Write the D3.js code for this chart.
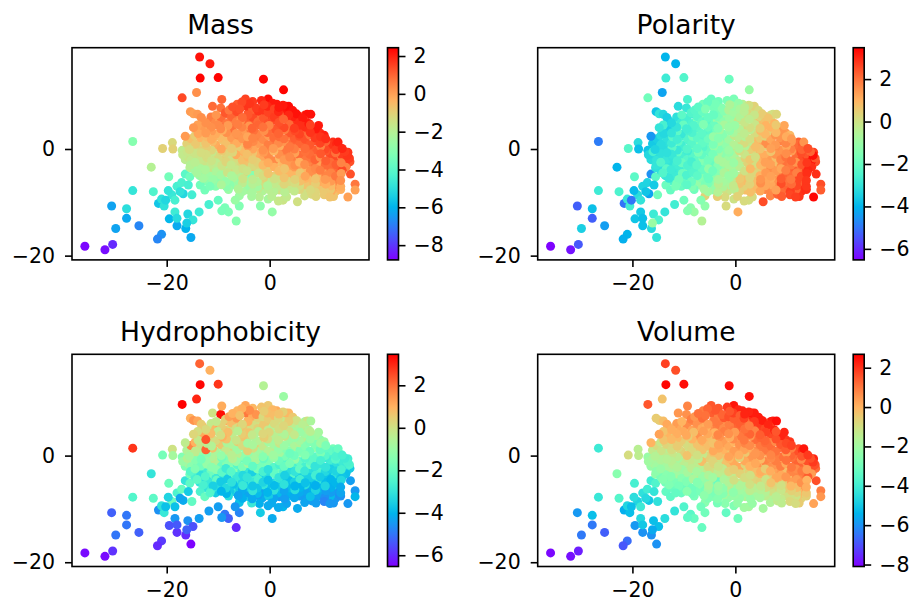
<!DOCTYPE html>
<html>
<head>
<meta charset="utf-8">
<script src="https://cdn.jsdelivr.net/npm/d3@7"></script>
<style>
  html, body { margin: 0; padding: 0; background: #fff; }
  text { font-family: "DejaVu Sans", sans-serif; fill: #000; }
</style>
</head>
<body>
<svg id="chart" width="913" height="602"></svg>
<script>
// one line per group of points, same order in every array
var embedX = [
  -35.9,-32,-30.5,-30.7,-27.8,-27.8,-29.9,-25.4,-26.6,-26.6,
  -23,-22.6,-20.8,-18.9,-18.8,-17,-19.6,-21.8,-21,-15.3,
  -16.3,-16.1,-18,-19.5,-18,-18.4,-15.9,-14.9,-13.7,-11.8,
  -10,-9.3,-8.7,-8,-6.5,-6.7,-5.9,-5.9,-3.5,-1.8,
  -0.3,0.5,1.7,2.6,5.4,8.2,10.6,12.4,15.2,16.6,
  16.6,15.7,15.2,13.3,10.6,9.5,8,6.9,3.7,2.7,
  -1.2,-0.3,-4.7,-9.3,-11.1,-9.5,-14.2,-17,-13.6,-11.6,
  -13.5,-10,-15.4,-14.8,-16.4,
  -16.4,-15.5,-17.1,-15.8,-18,-19.7,-17.4,-15.1,-19,-21,
  -20.2,-21.6,-20.5,-18.4,-16.8,-13.5,-12.6,-11.6,-9.3,-7.7,
  -5.4,-3.3,-1.6,0.6,
  -7.2,-4.4,-2.6,-0.4,1.8,3.2,
  -8.6,-6.4,-4.2,-2.2,-0.3,1.7,3.9,5.2,
  -13.3,-11.4,-9.4,-7.4,-5.3,-3.3,-1.2,0.9,2.8,4.8,6.4,
  -12.4,-10.5,-8.4,-6.5,-4.4,-2.3,-0.3,1.8,3.8,5.8,7.6,
  -14.8,-13.3,-11.4,-9.5,-7.4,-5.4,-3.4,-1.3,0.8,2.8,4.8,6.9,8.9,
  -13.9,-12.4,-10.5,-8.4,-6.5,-4.4,-2.4,-0.4,1.7,3.8,5.8,7.9,9.8,
  -15.3,-13.4,-11.3,-9.4,-7.4,-5.3,-3.3,-1.3,0.8,2.8,4.8,6.9,8.8,10.9,
  -16.1,-14.4,-12.4,-10.5,-8.5,-6.4,-4.3,-2.4,-0.3,1.7,3.8,5.9,7.8,9.8,11.9,13,
  -15.6,-13.4,-11.3,-9.4,-7.4,-5.4,-3.3,-1.3,0.7,2.9,4.8,6.9,8.9,10.8,12.9,14.1,
  -16.9,-14.4,-12.4,-10.5,-8.4,-6.5,-4.4,-2.3,-0.4,1.8,3.8,5.8,7.8,9.9,11.8,13.9,15.1,
  -16.4,-15.3,-13.3,-11.3,-9.4,-7.4,-5.3,-3.3,-1.4,0.8,2.8,4.8,6.9,8.8,10.9,12.9,14.9,
  -15.4,-13.4,-11.4,-9.3,-7.5,-5.4,-3.4,-1.3,0.7,2.7,4.9,6.8,8.9,10.8,12.9,14.9,14.4,
  -14.5,-12.5,-10.4,-8.5,-6.4,-4.4,-2.3,-0.4,1.8,3.8,5.8,7.9,9.8,11.9,13.8,14.1,
  -13.6,-11.6,-9.5,-7.4,-5.4,-3.4,-1.3,0.8,2.9,4.8,6.9,8.9,10.9,12.8,13.4,
  -12.5,-10.4,-8.5,-6.4,-4.3,-2.4,-0.3,1.8,3.8,5.9,7.8,9.8,11.9,13.8,13.2,
  -10.5,-8.4,-6.5,-4.3,-2.4,-0.4,1.7,3.8,5.8,7.9,9.8,11.9,13.8,13.1,
  -5.3,-3.4,-1.4,0.8,2.9,4.8,6.9,8.9,10.7,12.8,12,
  -2,0.4,3.3,6.8,9,11.7,
  // second pass over the dense part
  -6.3,-3.9,-1.1,1.4,2.6,
  -7.9,-5.8,-3.3,-1.3,0.9,2.6,4.5,
  -14,-10.4,-8.2,-6.1,-4.2,-2.2,0,1.9,3.7,5.6,7.3,
  -13.1,-11.6,-9.7,-7.4,-5.6,-3.5,-1.2,0.6,2.7,4.8,6.9,
  -14,-12,-10.1,-8.1,-6.2,-4,-2.2,-0.1,1.8,3.8,5.9,7.9,
  -13.1,-11.3,-9.2,-7.2,-5.3,-3.1,-1.1,1,2.9,4.9,6.9,8.9,
  -14.5,-12.2,-10.3,-8.3,-6.2,-4.3,-2.3,-0.2,1.9,3.9,5.8,7.8,9.9,
  -15.4,-13.2,-11.1,-9.1,-7.3,-5.2,-3.2,-1.1,0.8,2.8,4.9,6.9,8.8,10.9,12.3,
  -14.6,-12.3,-10.4,-8.4,-6.3,-4.2,-2.1,-0.2,1.9,3.9,5.9,7.8,9.9,11.9,13.6,
  -16,-13.3,-11.2,-9.3,-7.2,-5.3,-3.3,-1.2,0.8,2.8,4.9,6.9,8.8,10.9,12.8,14.6,
  -15.8,-13.9,-12.2,-10.3,-8.3,-6.3,-4.2,-2.3,-0.2,1.9,3.9,5.9,7.9,9.8,11.9,13.9,15.5,
  -14.5,-12.4,-10.4,-8.5,-6.4,-4.4,-2.4,-0.3,1.8,3.8,5.8,7.8,9.9,11.8,13.9,15.6,
  -15.5,-13.4,-11.3,-9.2,-7.2,-5.2,-3.1,-1.2,0.9,2.9,4.8,6.9,8.9,10.9,12.8,14.8,
  -14.1,-12.2,-10.3,-8.2,-6.3,-4.2,-2.2,-0.3,1.8,3.8,5.9,7.9,9.8,11.9,13.9,13.1,
  -12.9,-11,-9.2,-7.1,-5.2,-3.3,-1.2,0.9,2.8,4.9,6.9,8.9,10.8,12.9,12.3,
  -11.4,-9.4,-7.5,-5.3,-3.3,-1.4,0.8,2.8,4.9,6.9,8.9,10.9,12.8,12.1,
  -8,-6.1,-4.2,-2.3,-0.2,1.9,3.8,5.8,7.9,9.8,11.8,13.8
];
var embedY = [
  -18.25,-18.9,-17.9,-10.7,-11.2,-13,-14.9,-14.4,1.4,-7.8,
  -3.4,-8,0.1,1.2,0,-0.25,-5.2,-16.9,-16,-16.6,
  -14.9,-13.9,-14.4,-13.1,-13,-11.8,-12.2,-13.3,-11.8,-10.4,
  -9.6,-11.6,-11,-11.8,-13.5,-9.6,-10.7,-8.8,-8.9,-10.7,
  -9.4,-11.8,-9.75,-9.6,-9.9,-8.5,-8.6,-8.9,-9,-7.7,
  -6.6,-4.7,-0.6,1.3,2.6,4.4,6.5,6.4,8,11.1,
  13.1,9.4,9.4,9.3,8,7.7,10.6,9.6,17.25,16,
  13.3,13.4,7,6.6,2.4,
  -4.7,-5.2,-6.3,-6.75,-7,-7.8,-8,-8.6,-8.6,-9.4,
  -9.6,-10.2,-10.7,-9.6,-8.4,-6.75,-7.7,-7,-6.6,-6.75,
  8.8,8.9,9.1,8.6,
  7.9,8,7.7,8,7.8,8,
  6.8,7,6.7,7.1,6.9,7,6.8,6.6,
  5.9,6,5.8,6.1,5.9,6,5.8,6,5.9,6.1,5.8,
  4.9,5,4.8,5.1,4.9,5.1,4.8,5,4.9,5.1,4.8,
  4,3.9,4.1,3.8,4,4.1,3.9,4.1,3.8,4,3.9,4.1,3.7,
  2.9,3,2.8,3.1,2.9,3,2.8,3.1,2.9,3,2.8,3.1,3,
  1.9,2.1,1.8,2,2.1,1.9,2,1.8,2.1,1.9,2,1.8,2.1,1.9,
  1,0.9,1.1,0.8,1,1.1,0.9,1,0.8,1.1,0.9,1,0.8,1.1,0.9,1,
  -0.1,0.1,-0.2,0,0.1,-0.1,0,-0.2,0.1,-0.1,0,0.1,-0.2,0,-0.1,0.1,
  -1.1,-0.9,-1,-1.2,-0.9,-1.1,-1,-0.8,-1.1,-1,-0.9,-1.1,-1,-0.9,-1.1,-1,-1.2,
  -2,-2.1,-1.9,-2.2,-2,-1.9,-2.1,-2,-1.9,-2.2,-2,-1.9,-2.1,-2,-2.2,-1.9,-2.1,
  -3,-3.1,-2.9,-3.1,-3,-2.9,-3.1,-3,-2.9,-3.1,-3,-2.9,-3.2,-3,-2.9,-3.1,-3,
  -4,-3.9,-4.1,-4,-3.9,-4.1,-4,-3.9,-4.1,-4,-3.9,-4.1,-4,-3.9,-4.1,-4,
  -5,-5.1,-4.9,-5,-5.1,-4.9,-5,-5.1,-4.9,-5,-5.1,-4.9,-5,-5.1,-5,
  -6,-5.9,-6.1,-6,-5.9,-6.1,-6,-5.9,-6.1,-6,-5.9,-6.1,-6,-5.9,-6.1,
  -7,-7.1,-6.9,-7,-7.1,-6.9,-7,-7.1,-6.9,-7,-7.1,-6.9,-7,-7.1,
  -8,-8.1,-7.9,-8,-8.1,-7.9,-8,-8.1,-7.9,-8,-7.9,
  -9,-8.9,-9,-8.8,-8.9,-9,
  // second pass over the dense part
  8.4,8.5,8.3,8.4,8.2,
  7.3,7.5,7.4,7.3,7.5,7.4,7.2,
  6.5,6.4,6.5,6.3,6.4,6.6,6.3,6.5,6.4,6.2,6.5,
  5.5,5.3,5.4,5.6,5.4,5.3,5.5,5.4,5.6,5.3,5.4,
  4.5,4.3,4.5,4.4,4.6,4.3,4.5,4.4,4.3,4.6,4.4,4.5,
  3.5,3.3,3.5,3.4,3.2,3.5,3.4,3.3,3.6,3.4,3.3,3.5,
  2.5,2.3,2.5,2.4,2.6,2.3,2.4,2.5,2.3,2.5,2.4,2.6,2.3,
  1.5,1.3,1.4,1.6,1.3,1.5,1.4,1.3,1.5,1.4,1.6,1.3,1.5,1.4,1.3,
  0.5,0.3,0.4,0.6,0.3,0.5,0.4,0.3,0.5,0.4,0.6,0.3,0.5,0.4,0.3,
  -0.5,-0.7,-0.6,-0.4,-0.6,-0.5,-0.7,-0.6,-0.4,-0.6,-0.7,-0.5,-0.6,-0.4,-0.7,-0.5,
  -1.5,-1.7,-1.6,-1.4,-1.6,-1.7,-1.5,-1.6,-1.4,-1.7,-1.5,-1.6,-1.7,-1.5,-1.6,-1.4,-1.7,
  -2.5,-2.7,-2.6,-2.4,-2.6,-2.7,-2.5,-2.6,-2.4,-2.7,-2.5,-2.6,-2.7,-2.5,-2.6,-2.4,
  -3.5,-3.7,-3.6,-3.4,-3.6,-3.7,-3.5,-3.6,-3.4,-3.7,-3.5,-3.6,-3.7,-3.5,-3.6,-3.4,
  -4.5,-4.7,-4.6,-4.4,-4.6,-4.7,-4.5,-4.6,-4.4,-4.7,-4.5,-4.6,-4.7,-4.5,-4.6,-4.4,
  -5.5,-5.7,-5.6,-5.4,-5.6,-5.7,-5.5,-5.6,-5.4,-5.7,-5.5,-5.6,-5.7,-5.5,-5.6,
  -6.5,-6.7,-6.6,-6.4,-6.6,-6.7,-6.5,-6.6,-6.4,-6.7,-6.5,-6.6,-6.7,-6.5,
  -7.6,-7.5,-7.7,-7.5,-7.6,-7.7,-7.5,-7.6,-7.7,-7.5,-7.6,-7.6
];
var mass = [
  -8.7,-8.6,-8.2,-6.3,-5,-6.2,-6.3,-6.8,-3,-4.8,
  -2,-4.2,-1,-1.2,-1,-1.8,-3.4,-6.8,-6.6,-6.2,
  -6,-5.4,-6.2,-5.9,-5.1,-4.6,-5.2,-4.8,-4.6,-4.4,
  -3.7,-3.3,-3.3,-3.2,-3,-2.6,-3.1,-2.5,-2.3,-2.9,
  -2.3,-2.7,-1.6,-1.5,-1.4,-1.2,-0.8,-0.7,0,0,
  0.7,1.3,1.7,2,2,2.1,2.2,2,2.3,2.4,
  2.4,2.3,1.5,1,0.9,0.8,0.3,1.4,2.2,2.1,
  2.4,2.4,0.1,0,0.1,
  -4,-3.6,-4.3,-4.4,-4.4,-4.8,-4.9,-4.5,-4.7,-4.9,
  -5.2,-5.6,-4.9,-4.4,-5.2,-3.5,-3.4,-3.3,-3.1,-2.9,
  1.4,1.6,1.9,2.1,
  1.3,1.7,1.6,1.9,2.1,2.2,
  1.2,1.4,1.2,1.7,1.5,1.9,2.1,2.2,
  0.3,0.6,0.9,1,0.9,1.4,1.2,1.6,1.8,2,2.1,
  0.3,0.4,0.7,0.6,1,0.9,1.3,1.3,1.7,1.8,2.1,
  0.2,0.1,0.3,0.4,0.8,0.5,1,0.8,1.2,1.4,1.6,1.8,2.1,
  -0.1,0.1,-0.2,0.3,0.2,0.7,0.5,0.9,1,1.2,1.5,1.7,1.8,
  -0.6,-0.4,-0.2,-0.5,0.1,0.2,0.5,0.4,0.9,0.8,1.1,1.3,1.6,1.8,
  -1,-0.8,-0.7,-0.2,-0.6,-0.2,0.5,0.1,0.6,0.4,0.9,1,1.2,1.5,1.7,1.9,
  -1.3,-1,-1.1,-0.1,-0.8,-0.5,-0.1,0.3,0.1,0.7,0.6,0.9,1.1,1.4,1.6,1.9,
  -1.7,-1.5,-1.3,-1.2,-1.1,-0.2,-0.6,-0.2,0.4,0.3,0.7,0.9,0.9,1.2,1.4,1.6,1.7,
  -1.8,-1.7,-1.6,-1.5,-1.2,-1.4,-0.6,-0.9,-0.1,0.4,0.1,0.6,0.7,1,1.1,1.4,1.6,
  -2,-1.9,-1.7,-1.5,-1.6,-1.1,-1.2,-0.5,-0.1,-0.4,0.3,0.3,0.7,0.9,1.1,1.3,1.5,
  -2.4,-2.2,-2.1,-2,-1.6,-1.5,-1.1,-0.9,-0.5,-0.1,0.1,0.3,0.6,0.9,1.1,1.4,
  -2.7,-2.5,-2.4,-2.2,-2,-3,-1.3,-0.9,-0.7,-0.4,-0.1,0.3,0.5,0.7,1,
  -3,-2.9,-2.7,-2.6,-2.4,-2,-1.8,-1.5,-1.2,-0.6,-0.5,-0.2,0.1,0.3,0.6,
  -3,-2.9,-2.8,-2.6,-2.4,-2.1,-1.8,-1.6,-1.3,-1,-0.7,-0.5,-0.2,0.1,
  -2.4,-2.3,-2.1,-2,-1.9,-1.7,-1.4,-1.1,-0.8,-0.5,-0.2,
  -2,-1.9,-1.7,-1.4,-1.1,-0.7,
  // second pass
  1.1,1.7,1.6,2.1,2.1,
  0.7,1.3,1.1,1.7,1.5,2.1,2.2,
  0.1,0.2,0.9,0.5,1.2,0.8,1.5,1.2,1.9,1.7,2.2,
  -0.2,0.4,0.1,0.7,0.3,1.1,0.7,1.4,1,1.8,1.6,
  0,-0.3,0.4,0.1,0.6,0.2,1,0.5,1.3,0.9,1.8,1.5,
  -0.4,0.1,-0.2,0.4,0.1,0.8,0.3,1,0.6,1.4,1,1.8,
  -0.9,-0.5,-0.1,-0.5,0.3,-0.1,0.6,0.1,0.9,0.4,1.3,0.8,1.7,
  -1,-1.2,-0.5,-0.8,-0.1,-0.5,0.4,-0.1,0.7,0.2,1,0.5,1.3,1,1.8,
  -1.4,-0.9,-1.2,-0.4,-0.9,0.1,-0.4,0.4,-0.2,0.7,0.2,1,0.5,1.3,1.7,
  -1.6,-1.3,-1.6,-0.9,-1.1,-0.3,-0.7,0.1,-0.4,0.5,0,0.8,0.4,1.2,0.8,1.6,
  -1.5,-1.8,-1.3,-1.6,-0.9,-1.3,-0.4,-0.9,0.1,-0.4,0.4,-0.1,0.7,0.3,1.1,0.7,1.6,
  -1.9,-1.5,-1.8,-1.1,-1.4,-0.7,-1,-0.2,-0.6,0.1,-0.3,0.5,0,0.9,0.5,1.3,
  -2,-2.2,-1.5,-1.9,-1.1,-1.4,-0.7,-1,-0.3,-0.7,0.1,-0.4,0.4,0.1,0.9,0.5,
  -2.3,-1.9,-2.2,-1.5,-1.8,-1.1,-1.5,-0.7,-1,-0.4,-0.8,0,-0.4,0.5,0.1,0.9,
  -2.4,-2.6,-1.9,-2.2,-1.5,-1.8,-1.1,-1.4,-0.7,-1,-0.4,-0.7,0.1,-0.3,0.6,
  -2.8,-2.2,-2.5,-1.8,-2,-1.4,-1.7,-1.1,-1.3,-0.7,-0.9,-0.3,-0.6,0.2,
  -2.6,-2.1,-2.3,-1.7,-1.9,-1.4,-1.6,-1.1,-1.2,-0.7,-0.8,-0.3
];
var polarity = [
  -6.5,-6.3,-5.4,-5.3,-3.8,-5.3,-3.5,-4.4,-4.9,-2.8,
  -4,-2.5,-2.3,-3.2,-3.8,-3.7,-2.2,-4.1,-4,-3,
  -3.2,-1,-3.8,-3.7,-3.8,-3.6,-2.8,-2.5,-3,-2.7,
  -1.8,-1.4,-1.3,-1,-0.5,-1.4,-1.2,0.4,0.5,0.2,
  0,1.1,0.2,0.1,2.5,2.2,2.6,2.8,3.4,2.3,
  2.5,2.9,2.7,1.5,0.9,1.2,0.3,0.2,0.4,-1,
  -1.9,-1.6,-2,-2.5,-3.2,-2.9,-4.3,-1.8,-4,-4,
  -2.8,-2.4,-3.7,-3,-4.5,
  -4.6,-2.2,-3.4,-3.6,-3.4,-3.9,-3.7,-1.8,-3.2,-2.9,
  -5,-5,-2.7,-3,-4.3,-1.9,-2,-1.7,-1.3,-1.1,
  -2,-1.8,-1.6,-1.1,
  -2.2,-1.7,-1.4,-1,-0.4,0.1,
  -2.4,-2,-1.9,-1.4,-0.8,-0.4,0.2,0.5,
  -3.5,-3.1,-2.6,-2.3,-2,-1.6,-1,-0.6,0,0.3,0.7,
  -3.3,-2.8,-2.5,-2.1,-1.9,-1.3,-0.8,-0.1,0.2,0.7,1,
  -3,-3.5,-3,-2.7,-2.3,-2,-1.5,-1,-0.5,0.1,0.5,1,1.5,
  -3.3,-3,-2.9,-2.5,-2.2,-1.7,-1.4,-0.7,-0.3,0.2,0.9,0.9,1.4,
  -3.5,-3.1,-2.7,-2.4,-2.2,-1.9,-1.4,-0.9,-0.4,0.1,0.6,1.2,1.5,1.4,
  -3.6,-3.2,-2.8,-2.7,-2.3,-2.1,-1.6,-1.2,-0.5,0.2,0.9,1.6,1.4,1.7,2.1,2.3,
  -3.4,-3.2,-2.9,-2.4,-2.2,-2,-1.5,-1,-0.6,0.5,0.7,1.3,1.5,1.8,2.2,2.5,
  -3.3,-3.1,-2.9,-2.6,-2.3,-2.1,-1.7,-1.3,-0.7,-0.1,0.5,1.1,1.5,1.6,2.1,2.4,3.3,
  -3.2,-3,-2.9,-2.6,-2.3,-2.1,-1.8,-0.7,-1,-0.3,0.6,1,1.4,1.7,2.1,2.5,3.2,
  -3,-2.9,-2.7,-2.5,-2.2,-1.7,-1.4,-0.7,-0.2,0.4,0.9,1.3,1.6,1.9,2.4,3,2.9,
  -3.1,-2.8,-2.7,-2.4,-2,-1.8,-1.1,-0.7,0,0.6,1,1.4,1.8,2.3,2.7,3,
  -3,-2.8,-2.5,-2.2,-1.9,-1.4,-1,-0.3,0.3,1,1.3,1.6,2.1,2.6,2.9,
  -2.5,-2.1,-1.9,-1.6,-1.2,-0.8,-0.2,0.8,0.8,1.2,1.5,2,2.6,2.8,2.8,
  -2,-1.5,-1.4,-1.1,-0.6,-0.2,0.4,0.9,1.2,1.7,2.2,2.6,2.8,2.9,
  -0.9,-0.5,-0.1,0.4,0.8,1.2,1.6,2.1,2.7,2.9,2.8,
  0.2,0.4,0.2,1.7,2.3,2.7,
  // second pass
  -1.7,-1.7,-0.6,-0.5,0.1,
  -2.3,-1.5,-1.7,-0.6,-0.7,0.3,0.2,
  -3.3,-2.2,-2.6,-1.5,-2,-0.8,-1,0.1,-0.1,0.7,0.1,
  -3.3,-2.3,-2.7,-1.7,-2.2,-1,-1.3,-0.1,-0.3,0.8,0.3,
  -2.6,-3,-2,-2.4,-1.5,-1.9,-0.7,-1,0.3,-0.1,1,0.6,
  -3.1,-2.2,-2.6,-1.7,-2.2,-0.9,-1.2,0.1,-0.3,0.9,0.5,1.5,
  -3.2,-2.3,-2.8,-1.8,-2.3,-1.1,-1.5,-0.2,-0.5,0.8,0.4,1.5,1.1,
  -2.5,-3.1,-2.2,-2.5,-1.6,-2.1,-0.9,-1.2,0.1,-0.2,1.1,0.6,1.8,1.4,2.3,
  -3.2,-2.2,-2.8,-1.7,-2.3,-1.1,-1.4,-0.2,-0.5,0.8,0.4,1.6,1.2,2.2,1.9,
  -2.6,-3.1,-2.1,-2.7,-1.6,-2.1,-0.9,-1.2,0.1,-0.1,1.1,0.7,1.8,1.4,2.5,2.2,
  -3.2,-2.3,-3,-1.9,-2.5,-1.4,-1.8,-0.6,-0.9,0.4,0.1,1.3,0.8,2,1.5,2.7,2.4,
  -2.4,-3,-2,-2.6,-1.5,-2,-0.7,-1,0.3,0.1,1.3,0.8,2,1.5,2.8,2.5,
  -3.1,-2.2,-2.8,-1.7,-2.3,-1.2,-1.5,-0.2,-0.4,0.9,0.4,1.6,1.2,2.3,2,2.9,
  -2.4,-2.9,-1.9,-2.4,-1.4,-1.9,-0.6,-0.9,0.5,0.3,1.4,0.9,2.2,1.8,2.9,2.3,
  -2.9,-1.8,-2.4,-1.4,-1.9,-0.7,-0.9,0.6,0.3,1.5,1.1,2.3,1.9,3,2.4,
  -1.6,-2.2,-1.2,-1.6,-0.4,-0.7,0.7,0.4,1.6,1.2,2.5,2.1,3.1,2.3,
  -1.8,-0.8,-1.3,0,-0.4,0.8,0.5,1.7,1.3,2.6,2.2,2.9
];
var hydrophobicity = [
  -6.4,-6.4,-5.9,-5.3,-5,-5,-5,-5.3,2.8,-2.4,
  -3,-2.2,-1.7,0,-0.8,-1.5,-1.9,-6,-5.8,-6.5,
  -6,-5.3,-5.9,-5.5,-5.4,-4.5,-4.6,-5.5,-4.4,-4.4,
  -4.4,-4.5,-5,-5.3,-6,-4.5,-4.8,-3.8,-2.9,-3.6,
  -4.2,-4.2,-4.2,-4,-4.2,-4.4,-4.8,-4.5,-4.5,-4,
  -4.5,-4.4,-2.7,-2,-1,-0.8,-0.7,-0.8,0.9,-1,
  -0.5,0.6,1.2,1.1,0,3.3,3,3.5,2.2,1,
  3.4,2.8,1,1.5,-0.3,
  -3,-2.2,-2,-3.6,-2.5,-3.4,-4.3,-2.1,-1.9,-3.1,
  -3.8,-4.6,-2.9,-3.8,-4.2,-2.5,-2,-2.4,-3.9,-3.6,
  1,0.9,0.7,0.9,
  1,1.9,1.5,0.8,0.7,0.9,
  0.4,1.4,0.8,0.3,0.5,0.2,0.4,0,
  0.5,-0.2,0.4,0.8,0.3,0.1,0.6,0.2,-0.2,-0.3,-0.4,
  0.2,0.9,0.5,0.1,0.6,0.4,-0.2,0.1,-0.5,-0.7,-0.6,
  0.3,1.1,0.8,0.1,-0.3,0.5,-0.2,0.3,-0.4,-0.6,-0.2,-0.9,-0.9,
  -0.2,2.4,0.2,0.7,-0.1,0.4,-0.5,0.1,-0.3,-1,-0.8,-1.1,-1.2,
  1.7,-0.1,-0.5,0.6,-0.6,0.2,-0.7,-0.2,-0.8,-1,-0.7,-1.4,-1.5,-1.6,
  -0.6,-0.3,2.2,-0.7,-0.2,-0.9,0.4,-0.9,-0.5,-1.1,-1.3,-1.6,-1.9,-2,-2.1,-2.2,
  -0.8,-1.2,-0.6,-1.1,-0.4,-1.2,-0.8,-1.4,-0.9,-1.6,-1.8,-1.5,-2.2,-2.3,-2.5,-2.6,
  -1,-1.4,-1.1,-0.6,-1.5,-1.1,-1.7,-0.8,-1.6,-1.9,-1.5,-2.1,-2.2,-2.6,-2.7,-2.8,-2.6,
  -1.5,-1.3,-1.8,-1.3,-1.9,-1.4,-1.6,-2.1,-1.7,-2.3,-2,-2.5,-2.6,-3,-3,-3.1,-2.9,
  -2.3,-2.4,-1.9,-2.2,-2.3,-2.7,-3.5,-2.6,-2.8,-2.5,-3,-2.9,-3.2,-3.3,-3.4,-3.1,-3.3,
  -2.6,-2.4,-2.8,-2.7,-2.9,-3,-2.6,-3.2,-3,-3.3,-3.4,-3.5,-3.6,-3.8,-3.6,-3.7,
  -3,-2.9,-3.6,-3.1,-3.3,-2.9,-3.4,-3.3,-3.6,-3.5,-3.8,-3.7,-3.9,-4,-3.8,
  -3.1,-3.2,-3.3,-3.6,-3.5,-3.7,-3.8,-3.6,-3.9,-4,-4,-3.9,-4.1,-4.2,-4.4,
  -3.6,-4,-3.8,-4.3,-3.9,-4,-3.9,-4.1,-4.2,-4.1,-4.3,-4.4,-4.3,-4.6,
  -4.1,-4.2,-4.2,-4.3,-4.4,-4.2,-4.4,-4.3,-4.6,-4.5,-4.5,
  -4.1,-4.2,-4.3,-4.3,-4.4,-4.5,
  // second pass
  0.9,1.6,0.5,1.1,0.4,
  1.3,0.7,1.1,0.2,0.8,-0.1,0.6,
  1.2,-0.2,1.1,0.4,1,0,0.6,-0.2,0.5,-0.5,0,
  1,-0.1,1.1,0,0.7,0.1,0.6,-0.5,0.3,-0.8,-0.1,
  0.1,1.2,-0.3,0.8,-0.4,0.7,-0.4,0.3,-0.7,0,-1,-0.4,
  0.9,0.1,1,-0.5,0.7,-0.6,0.5,-0.8,-0.1,-1.1,-0.4,-1.3,
  1,-0.4,0.8,-0.7,0.6,-0.8,0.4,-0.9,-0.1,-1.2,-0.5,-1.5,-0.9,
  0.7,-0.7,0.7,-1,0.3,-1.1,0.1,-1.2,-0.2,-1.4,-0.7,-1.7,-1.1,-2.1,-1.7,
  -0.2,-1.3,-0.5,-1.2,-0.4,-1.2,-0.6,-1.5,-0.8,-1.9,-1.2,-2.2,-1.6,-2.6,-2.1,
  -0.5,-1.7,-0.3,-1.8,-0.5,-1.9,-0.7,-2,-1.1,-2.3,-1.1,-2.4,-1.8,-2.8,-2.3,-2.8,
  -0.7,-2,-1.1,-1.7,-1,-2.3,-0.8,-2.4,-1.1,-2.6,-1.6,-2.7,-1.9,-3,-2.4,-3.2,-2.5,
  -1.5,-2.7,-1.3,-2.8,-1.4,-2.9,-1.7,-3.1,-1.8,-3.2,-2.1,-3.2,-2.5,-3.5,-2.6,-3.6,
  -1.8,-3.1,-1.9,-3.2,-1.9,-3.3,-2,-3.5,-2.1,-3.5,-2.3,-3.5,-2.7,-3.7,-3.1,-3.8,
  -2.2,-3.5,-2.1,-3.6,-2.3,-3.7,-2.5,-3.8,-2.5,-3.8,-2.7,-3.9,-3,-4,-3.3,-4,
  -2.6,-3.5,-2.8,-3.8,-2.9,-3.7,-3,-3.9,-3.1,-4,-3.2,-4.1,-3.4,-4.2,-3.5,
  -2.7,-4,-2.9,-4.2,-3,-4.3,-3.1,-4.3,-3.2,-4.3,-3.4,-4.4,-3.5,-4.5,
  -3.2,-4.3,-3.5,-4.4,-3.6,-4.5,-3.7,-4.4,-3.8,-4.6,-3.9,-4.6
];
var volume = [
  -8,-7.9,-7.7,-5.9,-5.2,-6.4,-6.4,-6.8,-4.1,-4.2,
  -2.5,-3.6,-0.9,-1.5,-1.4,-2.2,-3.9,-6.9,-6.6,-6,
  -6,-5.6,-6,-5.9,-5,-4.6,-5.2,-5.2,-4.5,-4.3,
  -3.7,-3.4,-3.5,-3.2,-3.2,-3,-3,-2.5,-2.9,-3.3,
  -2.7,-3,-2,-1.9,-1.9,-1.3,-0.8,-0.5,0.3,0.5,
  0.9,1.6,2.2,2.4,2,2.2,2.5,2.4,2.3,2.5,
  2.5,2.4,1.5,0.8,0.5,0.6,-0.3,1.5,1.8,1.6,
  2.6,2.5,-0.5,-0.5,0,
  -4,-3.7,-4,-4.3,-4.4,-4.5,-4.6,-4.4,-4.7,-4.7,
  -5.2,-5.5,-5.2,-4.1,-5,-3.3,-3.4,-3.3,-3,-2.9,
  1.3,1.5,1.9,2.2,
  1.1,1.4,1.3,1.8,2.2,2.4,
  0.9,1.2,0.7,1.5,1.4,1.8,2.1,2.3,
  0.2,0.4,0.7,0.6,0.4,1,0.9,1.4,1.7,1.9,2.2,
  0.1,0.2,0.3,0.2,0.6,0.7,1,1.1,1.5,1.7,2.2,
  0.3,0,0.1,0.2,0.6,0.2,0.8,0.6,1,1.3,1.4,1.7,2.2,
  -0.3,-0.1,-0.5,0,0.2,0.5,0.4,0.7,1,1.2,1.3,1.6,1.9,
  -0.9,-0.7,-0.5,-0.9,-0.3,-0.2,0.3,0.2,0.6,0.7,1,1.2,1.5,1.8,
  -1.3,-1.1,-0.9,-0.6,-0.8,-0.3,0.2,0,0.4,0.3,0.7,1,1.1,1.4,1.6,2,
  -1.6,-1.3,-1.4,-0.3,-1,-0.6,-0.2,0.3,0.1,0.5,0.6,0.8,1.1,1.3,1.5,1.9,
  -2,-1.7,-1.5,-1.4,-1.2,-0.2,-0.7,-0.3,0.2,0.2,0.5,0.8,0.9,1.1,1.3,1.6,1.9,
  -2.2,-2,-1.9,-1.7,-1.5,-1.4,-0.9,-1.1,-0.3,0.2,0,0.5,0.6,0.9,1,1.3,1.6,
  -2.4,-2.3,-2,-1.9,-1.9,-1.3,-1.4,-0.7,-0.3,-0.6,0.1,0.1,0.5,0.8,1,1.3,1.5,
  -2.8,-2.6,-2.5,-2.4,-2.2,-2,-1.5,-1.3,-0.9,-0.4,-0.1,0.2,0.5,0.8,1,1.4,
  -3,-2.8,-2.7,-2.6,-2.3,-3.2,-1.7,-1.2,-0.9,-0.6,-0.3,0.1,0.4,0.6,0.9,
  -3.2,-3.1,-3,-2.9,-2.7,-2.4,-2.2,-1.8,-1.5,-0.9,-0.8,-0.5,-0.2,0.1,0.4,
  -3.2,-3,-3,-2.8,-2.6,-2.4,-2.1,-1.9,-1.6,-1.3,-1,-0.7,-0.4,-0.1,
  -2.7,-2.6,-2.3,-2.3,-2.2,-1.9,-1.6,-1.3,-1,-0.7,-0.4,
  -2.5,-2.3,-2.2,-1.7,-1.4,-0.9,
  // second pass
  0.9,1.5,1.5,2.2,2.2,
  0.5,1.1,0.9,1.6,1.4,2.1,2.3,
  -0.2,0,0.7,0.2,1,0.6,1.4,1.1,1.9,1.7,2.3,
  -0.5,0.1,-0.2,0.5,0,0.9,0.5,1.3,0.9,1.8,1.6,
  -0.3,-0.6,0.2,-0.2,0.4,0,0.9,0.4,1.2,0.8,1.8,1.5,
  -0.7,-0.1,-0.5,0.2,-0.2,0.6,0.1,0.9,0.5,1.3,0.9,1.8,
  -1.2,-0.8,-0.3,-0.8,0,-0.3,0.4,0,0.8,0.3,1.2,0.7,1.7,
  -1.3,-1.5,-0.8,-1.1,-0.4,-0.8,0.2,-0.3,0.5,0.1,0.9,0.4,1.2,0.9,1.8,
  -1.7,-1.2,-1.5,-0.7,-1.2,-0.2,-0.7,0.2,-0.4,0.5,0.1,0.9,0.4,1.2,1.7,
  -1.9,-1.6,-1.9,-1.2,-1.4,-0.6,-1,-0.1,-0.6,0.3,-0.1,0.7,0.3,1.1,0.7,1.6,
  -1.8,-2.1,-1.6,-1.9,-1.2,-1.6,-0.7,-1.2,-0.2,-0.7,0.2,-0.3,0.5,0.2,1,0.6,1.6,
  -2.2,-1.8,-2.1,-1.4,-1.7,-1,-1.3,-0.5,-0.9,-0.2,-0.5,0.3,-0.2,0.7,0.4,1.2,
  -2.3,-2.5,-1.8,-2.2,-1.4,-1.7,-1,-1.3,-0.6,-1,0,-0.6,0.2,0,0.8,0.4,
  -2.6,-2.2,-2.5,-1.8,-2.1,-1.4,-1.8,-1,-1.3,-0.7,-1.1,-0.2,-0.6,0.4,0,0.8,
  -2.7,-2.9,-2.2,-2.5,-1.8,-2.1,-1.4,-1.7,-1,-1.3,-0.7,-1,-0.1,-0.5,0.4,
  -3.1,-2.5,-2.8,-2.1,-2.3,-1.7,-2,-1.4,-1.6,-1,-1.2,-0.6,-0.9,0,
  -2.9,-2.4,-2.6,-2,-2.2,-1.7,-1.9,-1.4,-1.5,-1,-1.1,-0.6
];

var xTicks = [-20, 0];
var yTicks = [-20, 0];
var massTicks = [-8, -6, -4, -2, 0, 2];
var polarityTicks = [-6, -4, -2, 0, 2];
var hydroTicks = [-6, -4, -2, 0, 2];
var volumeTicks = [-8, -6, -4, -2, 0, 2];

var panels = [
  { title: 'Mass', values: mass, ticks: massTicks, range: [-8.78, 2.44], left: 72, top: 47.7 },
  { title: 'Polarity', values: polarity, ticks: polarityTicks, range: [-6.52, 3.48], left: 537.7, top: 47.7 },
  { title: 'Hydrophobicity', values: hydrophobicity, ticks: hydroTicks, range: [-6.53, 3.46], left: 72, top: 354.3 },
  { title: 'Volume', values: volume, ticks: volumeTicks, range: [-8.1, 2.68], left: 537.7, top: 354.3 }
];

var axW = 297, axH = 212.2;
var barGap = 18.5, barW = 11;

// matplotlib's "rainbow" colormap
function rainbow(t) {
  var r = Math.min(1, Math.abs(2 * t - 0.5));
  var g = Math.sin(Math.PI * t);
  var b = Math.cos(Math.PI * t / 2);
  return d3.rgb(r * 255, g * 255, b * 255).formatHex();
}

// paint order: step through the points so rows don't shingle over each other
var paintOrder = d3.range(embedX.length).sort(function(a, b) {
  return (a * 157) % embedX.length - (b * 157) % embedX.length;
});

var svg = d3.select('#chart');
var defs = svg.append('defs');

function styleAxis(g) {
  g.selectAll('.domain').remove();
  g.selectAll('line').attr('stroke', '#000').attr('stroke-width', 1.6);
  g.selectAll('text').attr('font-size', 20.5).attr('font-family', '"DejaVu Sans", sans-serif');
}

panels.forEach(function(p, i) {
  var g = svg.append('g').attr('transform', 'translate(' + p.left + ',' + p.top + ')');

  var x = d3.scaleLinear().domain([-38.4, 19.3]).range([0, axW]);
  var y = d3.scaleLinear().domain([-20.8, 19]).range([axH, 0]);
  var color = d3.scaleSequential(rainbow).domain(p.range);

  g.selectAll('circle')
    .data(paintOrder)
    .enter().append('circle')
    .attr('cx', function(j) { return x(embedX[j]); })
    .attr('cy', function(j) { return y(embedY[j]); })
    .attr('r', 4.5)
    .attr('fill', function(j) { return color(p.values[j]); });

  g.append('g')
    .attr('transform', 'translate(0,' + axH + ')')
    .call(d3.axisBottom(x).tickValues(xTicks).tickSize(7).tickPadding(9))
    .call(styleAxis);

  g.append('g')
    .call(d3.axisLeft(y).tickValues(yTicks).tickSize(7).tickPadding(10))
    .call(styleAxis);

  g.append('rect')
    .attr('width', axW)
    .attr('height', axH)
    .attr('fill', 'none')
    .attr('stroke', '#000')
    .attr('stroke-width', 1.6);

  g.append('text')
    .attr('x', axW / 2)
    .attr('y', -13.5)
    .attr('text-anchor', 'middle')
    .attr('font-size', 26.5)
    .text(p.title);

  // colorbar
  var grad = defs.append('linearGradient')
    .attr('id', 'bar' + i)
    .attr('x1', 0).attr('y1', 1).attr('x2', 0).attr('y2', 0);
  d3.range(0, 1.01, 0.05).forEach(function(t) {
    grad.append('stop').attr('offset', t).attr('stop-color', rainbow(t));
  });

  var cb = g.append('g').attr('transform', 'translate(' + (axW + barGap) + ',0)');
  var cbScale = d3.scaleLinear().domain(p.range).range([axH, 0]);

  cb.append('rect')
    .attr('width', barW)
    .attr('height', axH)
    .attr('fill', 'url(#bar' + i + ')')
    .attr('stroke', '#000')
    .attr('stroke-width', 1.6);

  cb.append('g')
    .attr('transform', 'translate(' + barW + ',0)')
    .call(d3.axisRight(cbScale).tickValues(p.ticks).tickSize(7).tickPadding(8))
    .call(styleAxis);
});
</script>
</body>
</html>
